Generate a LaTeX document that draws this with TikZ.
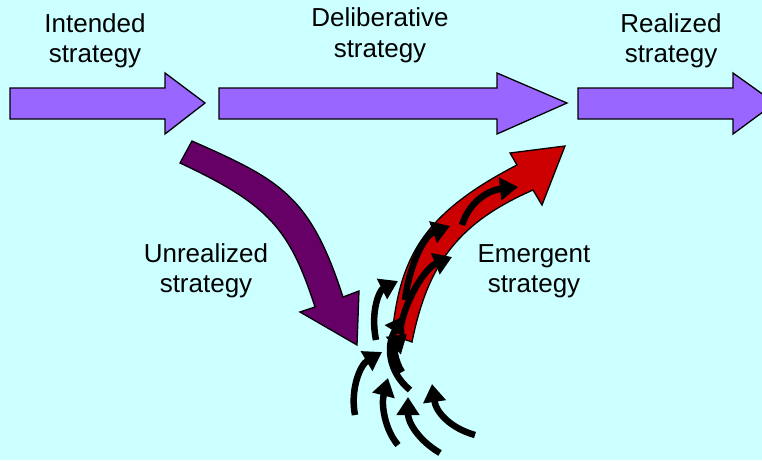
\documentclass[tikz,border=0pt]{standalone}
\usepackage{fontspec}
\setmainfont{Liberation Sans}
\usetikzlibrary{arrows.meta}
\definecolor{bgcyan}{RGB}{204,255,255}
\definecolor{lilac}{RGB}{153,102,255}
\definecolor{plum}{RGB}{102,0,102}
\definecolor{darkred}{RGB}{204,0,0}
\tikzset{
  label/.style={font=\fontsize{26}{30}\selectfont, align=center, anchor=base, inner sep=0pt},
  blockarr/.style={draw=black, line width=1.3pt, line join=miter},
  smallarr/.style={line width=6.5pt, -{Triangle[length=18pt,width=22pt]}}
}

\begin{document}
\begin{tikzpicture}[x=1pt,y=-1pt]
  %% Frame
  \useasboundingbox (0,0) rectangle (762,460);
  \clip (0,0) rectangle (762,460);
  \fill[bgcyan] (0,0) rectangle (762,460);

  %% Straight strategy arrows
  \filldraw[blockarr, fill=lilac] (10,88) -- (165,88) -- (165,73) -- (205,103)
    -- (165,134) -- (165,119) -- (10,119) -- cycle;
  \filldraw[blockarr, fill=lilac] (219,88) -- (497,88) -- (497,73) -- (567,103)
    -- (497,134) -- (497,119) -- (219,119) -- cycle;
  \filldraw[blockarr, fill=lilac] (578,88) -- (733,88) -- (733,73) -- (775,103)
    -- (733,134) -- (733,119) -- (578,119) -- cycle;

  %% Unrealized part
  \filldraw[blockarr, fill=plum] (192,141) .. controls (280,180) and (310,195) .. (343,297)
    -- (359,291) -- (357,345) -- (300,312) -- (315,307)
    .. controls (290,230) and (270,205) .. (180,163) -- cycle;

  %% Emergent part
  \filldraw[blockarr, fill=darkred] (392,335) .. controls (400,260) and (420,215) .. (517,165)
    -- (510,153) -- (565,146) -- (542,205) -- (533,190)
    .. controls (460,222) and (428,262) .. (412,342) -- cycle;

  %% Small arrows feeding the emergent strategy
  \draw[smallarr] (475,435) .. controls (450,428) and (436,412) .. (432,384);
  \draw[smallarr] (440,453) .. controls (418,440) and (408,422) .. (408,397);
  \draw[smallarr] (398,445) .. controls (385,430) and (381,405) .. (388,378);
  \draw[smallarr] (355,415) .. controls (350,390) and (360,365) .. (382,352);
  \draw[smallarr] (376,340) .. controls (370,310) and (380,290) .. (398,281);
  \draw[smallarr] (410,390) .. controls (388,372) and (386,345) .. (404,316);
  \draw[smallarr] (402,372) .. controls (394,360) and (394,345) .. (407,334);
  \draw[smallarr] (400,330) .. controls (405,300) and (425,268) .. (452,257);
  \draw[smallarr] (405,300) .. controls (410,262) and (425,235) .. (450,226);
  \draw[smallarr] (462,225) .. controls (470,200) and (490,190) .. (518,187);

  %% Labels (anchored at the baseline of the last line)
  \node[label] (intended) at (95,63) {Intended\\strategy};
  \node[label] (deliberative) at (380,57) {Deliberative\\strategy};
  \node[label] (realized) at (671,63) {Realized\\strategy};
  \node[label] (unrealized) at (206,292) {Unrealized\\strategy};
  \node[label] (emergent) at (534,292) {Emergent\\strategy};
\end{tikzpicture}
\end{document}
